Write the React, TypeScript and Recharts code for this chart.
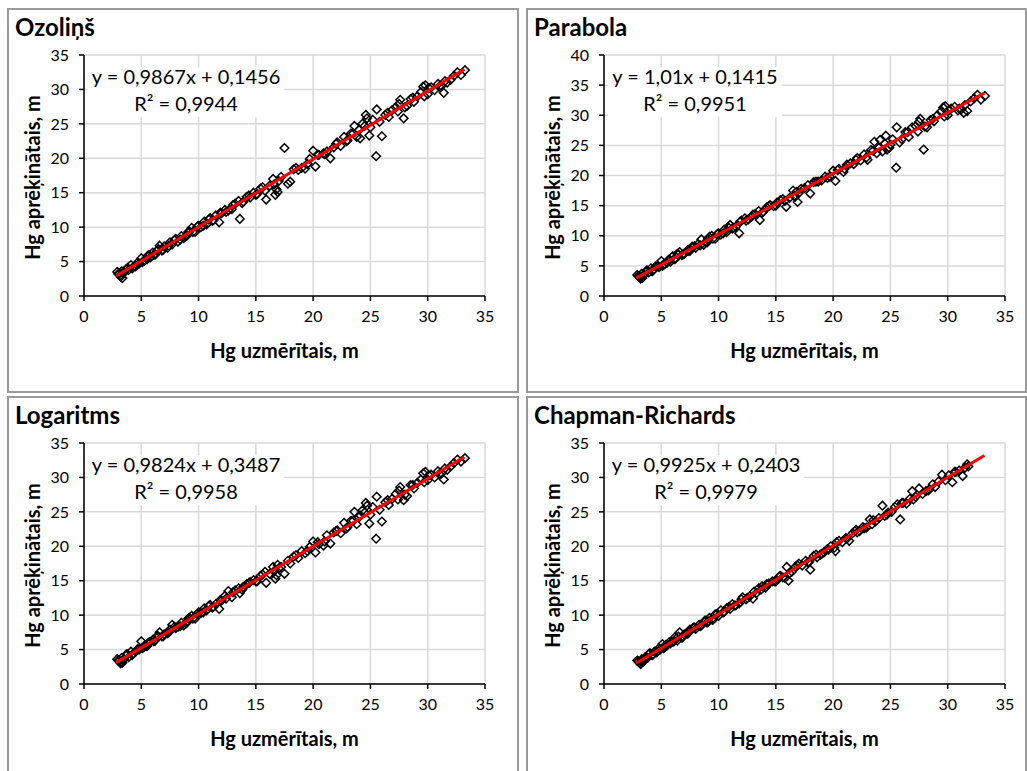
import React from 'react';
import { ScatterChart, Scatter, XAxis, YAxis, CartesianGrid } from 'recharts';

const FONT = 'Lato, "Open Sans", "DejaVu Sans", sans-serif';

const titles = ['Ozoliņš', 'Parabola', 'Logaritms', 'Chapman-Richards'];
const equations = [
  'y = 0,9867x + 0,1456',
  'y = 1,01x + 0,1415',
  'y = 0,9824x + 0,3487',
  'y = 0,9925x + 0,2403',
];
const rSquared = ['R² = 0,9944', 'R² = 0,9951', 'R² = 0,9958', 'R² = 0,9979'];
const xTitle = 'Hg uzmērītais, m';
const yTitle = 'Hg aprēķinātais, m';

const xTicks = [0, 5, 10, 15, 20, 25, 30, 35];
const yTicks35 = [0, 5, 10, 15, 20, 25, 30, 35];
const yTicks40 = [0, 5, 10, 15, 20, 25, 30, 35, 40];

// measured heights shared by the first three models
const measuredA = [
  2.9, 3.1, 3.2, 3.3, 3.35, 3.5, 3.7, 3.9, 4.1, 4.3,
  4.5, 4.8, 5.0, 5.1, 5.3, 5.6, 5.8, 6.0, 6.2, 6.4,
  6.6, 6.8, 7.0, 7.3, 7.5, 7.7, 8.0, 8.2, 8.5, 8.7,
  9.0, 9.2, 9.4, 9.7, 9.9, 10.2, 10.5, 10.7, 11.0, 11.2,
  11.5, 11.8, 12.0, 12.3, 12.6, 12.9, 13.2, 13.5, 13.6, 13.9,
  14.2, 14.5, 14.8, 15.1, 15.4, 15.8, 15.9, 16.2, 16.5, 16.7,
  16.9, 17.2, 17.5, 17.8, 18.0, 18.3, 18.7, 19.0, 19.3, 19.7,
  20.0, 20.2, 20.5, 20.9, 21.2, 21.5, 21.8, 22.1, 22.4, 22.7,
  23.0, 23.3, 23.6, 23.8, 24.1, 24.3, 24.6, 24.9, 25.2, 25.5,
  25.55, 25.8, 26.0, 26.3, 26.6, 26.9, 27.2, 27.4, 27.6, 27.9,
  28.2, 28.5, 28.8, 29.1, 29.4, 29.6, 29.8, 30.0, 30.3, 30.6,
  30.9, 31.2, 31.4, 31.7, 32.0, 32.3, 32.6, 32.9, 33.25, 31.5,
  3.2, 5.5, 8.9, 16.6, 16.8, 24.5, 24.7, 27.5, 29.7, 30.1,
  3.0, 3.4, 3.8, 4.2, 4.7, 5.2, 5.7, 6.1, 6.5, 6.9,
  7.4, 7.9, 8.4, 9.1, 9.5, 10.0, 10.4, 10.9, 11.3, 11.9,
  12.4, 13.0, 13.8, 14.4, 15.0, 15.6, 17.0, 18.5, 19.5, 20.4,
  21.0, 22.0, 22.9, 23.5, 24.0, 25.0, 26.5, 28.0, 28.7, 31.0,
];

const ozolinsY = [
  3.5, 3.3, 2.8, 3.6, 2.6, 3.4, 3.9, 3.8, 4.5, 4.2,
  4.3, 4.7, 5.5, 4.9, 5.2, 5.9, 5.6, 6.3, 6.0, 6.6,
  7.3, 6.6, 7.2, 7.0, 7.8, 7.5, 8.3, 7.9, 8.7, 8.4,
  8.8, 9.4, 9.9, 9.3, 10.1, 10.0, 10.8, 10.4, 11.3, 10.9,
  11.7, 10.7, 12.0, 12.5, 12.4, 12.6, 13.4, 13.8, 11.2, 13.7,
  14.4, 14.3, 15.0, 14.8, 15.6, 15.3, 14.0, 16.0, 17.0, 14.7,
  15.1, 17.3, 21.5, 16.3, 16.6, 18.4, 18.3, 18.6, 18.5, 19.9,
  21.1, 18.8, 20.5, 20.7, 21.0, 20.0, 21.6, 22.3, 21.8, 23.1,
  22.6, 23.6, 24.7, 23.1, 22.9, 25.0, 26.3, 23.3, 25.6, 20.3,
  27.1, 25.3, 23.2, 26.3, 26.0, 27.0, 27.4, 26.8, 28.5, 25.8,
  27.6, 28.6, 28.2, 29.0, 29.6, 30.4, 30.6, 29.3, 30.3, 29.9,
  30.8, 30.5, 29.5, 31.0, 31.4, 32.0, 32.5, 32.1, 32.8, 31.2,
  3.0, 5.3, 8.7, 16.2, 15.5, 24.7, 25.8, 27.9, 29.0, 30.2,
  3.2, 3.3, 4.1, 4.0, 4.9, 5.1, 5.9, 6.0, 6.8, 6.7,
  7.3, 8.1, 8.2, 9.3, 9.3, 10.2, 10.2, 11.1, 11.0, 12.1,
  12.2, 13.2, 13.5, 14.6, 14.7, 15.8, 16.7, 18.6, 19.2, 20.5,
  20.6, 22.1, 22.5, 23.6, 24.1, 24.5, 26.6, 27.4, 28.8, 30.4,
];

const parabolaY = [
  3.5, 3.2, 2.9, 3.7, 3.0, 3.5, 4.2, 3.9, 4.6, 4.3,
  4.9, 4.8, 5.8, 5.0, 5.3, 5.9, 5.7, 6.6, 6.1, 7.0,
  7.3, 6.8, 7.0, 7.6, 7.5, 8.2, 8.0, 8.6, 9.4, 8.5,
  8.9, 9.8, 10.0, 9.5, 10.3, 10.2, 11.0, 10.6, 11.8, 11.2,
  11.5, 10.4, 12.5, 12.9, 12.7, 13.2, 13.6, 14.1, 12.6, 14.0,
  14.7, 15.1, 14.9, 15.5, 15.9, 15.8, 14.8, 16.3, 17.5, 16.5,
  15.6, 17.8, 17.9, 18.4, 17.0, 18.9, 19.0, 19.2, 19.8, 19.8,
  20.8, 19.1, 21.1, 20.6, 21.8, 22.0, 21.9, 22.9, 22.5, 23.5,
  22.6, 24.2, 25.6, 23.7, 25.9, 24.0, 26.6, 24.6, 26.0, 21.3,
  28.0, 25.5, 26.0, 27.2, 26.4, 28.0, 28.2, 27.3, 29.4, 24.3,
  28.0, 29.2, 29.0, 30.0, 30.6, 31.3, 31.5, 30.0, 31.1, 31.4,
  30.8, 31.0, 30.4, 30.7, 32.3, 32.8, 33.4, 32.6, 33.2, 31.7,
  3.1, 5.5, 9.0, 16.6, 17.3, 25.3, 24.3, 28.9, 29.8, 30.8,
  3.3, 3.4, 4.2, 4.1, 5.0, 5.2, 6.1, 6.1, 6.9, 6.9,
  7.5, 8.3, 8.4, 9.5, 9.5, 10.4, 10.4, 11.3, 11.3, 12.4,
  12.5, 13.5, 13.8, 14.9, 15.0, 16.1, 17.1, 19.0, 19.6, 20.9,
  21.1, 22.6, 23.0, 24.1, 24.6, 25.1, 27.2, 28.1, 29.4, 31.1,
];

const logaritmsY = [
  3.6, 3.4, 3.0, 3.8, 3.1, 3.6, 4.3, 3.9, 4.7, 4.4,
  4.7, 5.0, 6.2, 5.2, 5.6, 5.9, 6.1, 6.4, 6.3, 7.0,
  7.5, 6.9, 7.2, 7.4, 7.9, 8.6, 8.1, 8.3, 8.9, 8.5,
  9.0, 9.6, 9.9, 9.5, 10.2, 10.3, 11.0, 10.7, 11.5, 11.1,
  11.6, 10.9, 12.1, 12.8, 13.5, 12.6, 13.6, 13.9, 13.2, 14.1,
  14.5, 14.8, 15.1, 14.9, 15.7, 16.3, 14.7, 16.0, 17.0, 15.3,
  17.3, 17.0, 16.0, 17.9, 17.5, 18.5, 18.3, 19.3, 19.0, 19.9,
  20.7, 19.1, 20.3, 20.1, 21.6, 20.4, 22.0, 22.3, 21.9, 23.4,
  22.8, 23.7, 25.0, 23.2, 24.5, 25.2, 26.3, 23.3, 25.7, 21.1,
  27.2, 25.3, 23.6, 26.4, 26.0, 26.9, 27.6, 26.8, 28.6, 26.7,
  27.3, 28.9, 28.4, 29.2, 29.7, 30.6, 30.8, 29.6, 30.4, 30.0,
  30.9, 30.6, 29.7, 31.1, 31.6, 32.1, 32.6, 32.3, 32.8, 31.3,
  3.2, 5.5, 8.8, 16.4, 15.8, 24.9, 25.9, 28.1, 29.3, 30.3,
  3.4, 3.5, 4.3, 4.2, 5.1, 5.3, 6.1, 6.2, 6.9, 6.9,
  7.5, 8.3, 8.4, 9.5, 9.5, 10.4, 10.4, 11.3, 11.2, 12.2,
  12.4, 13.3, 13.7, 14.7, 14.9, 15.9, 16.8, 18.7, 19.3, 20.6,
  20.7, 22.2, 22.6, 23.7, 24.2, 24.6, 26.7, 27.5, 28.9, 30.5,
];

// measured heights for the Chapman-Richards panel
const measuredB = [
  2.9, 3.1, 3.2, 3.3, 3.4, 3.6, 3.8, 4.0, 4.2, 4.4,
  4.6, 4.9, 5.1, 5.3, 5.5, 5.8, 6.0, 6.2, 6.4, 6.6,
  6.8, 7.0, 7.3, 7.5, 7.8, 8.0, 8.3, 8.5, 8.8, 9.0,
  9.2, 9.5, 9.7, 10.0, 10.2, 10.5, 10.7, 11.0, 11.2, 11.5,
  11.8, 12.1, 12.4, 12.7, 13.0, 13.3, 13.5, 13.8, 14.1, 14.4,
  14.7, 15.0, 15.3, 15.6, 15.95, 16.1, 16.4, 16.7, 17.0, 17.3,
  17.6, 17.9, 18.0, 18.3, 18.6, 18.9, 19.2, 19.5, 19.8, 20.1,
  20.2, 20.5, 20.8, 21.1, 21.4, 21.7, 22.0, 22.3, 22.6, 22.9,
  23.2, 23.4, 23.7, 24.0, 24.3, 24.5, 24.8, 25.1, 25.4, 25.6,
  25.85, 26.1, 26.4, 26.7, 26.9, 27.2, 27.5, 27.8, 28.1, 28.4,
  28.7, 28.9, 29.2, 29.5, 29.8, 30.1, 30.4, 30.7, 31.0, 31.3,
  31.5, 31.7, 31.8, 3.3, 5.4, 9.1, 15.8, 19.6, 22.1, 27.0,
  3.0, 3.5, 3.9, 4.3, 4.8, 5.2, 5.7, 6.1, 6.5, 6.9,
  7.4, 7.9, 8.4, 8.9, 9.4, 9.9, 10.4, 10.9, 11.4, 12.0,
  12.5, 13.1, 13.7, 14.2, 14.9, 15.4, 16.2, 16.9, 17.8, 18.5,
  19.0, 20.3, 21.2, 21.9, 22.7, 23.5, 24.7, 26.0, 28.3, 30.6,
];

const chapmanY = [
  3.4, 3.1, 2.9, 3.6, 3.2, 3.9, 3.8, 4.5, 4.2, 4.7,
  4.6, 5.0, 5.8, 5.3, 5.6, 5.9, 6.1, 6.8, 6.3, 7.5,
  6.7, 7.2, 7.3, 7.9, 8.2, 8.0, 8.6, 8.5, 9.2, 8.9,
  9.6, 9.3, 10.1, 9.9, 10.7, 10.5, 11.0, 10.9, 11.6, 11.4,
  11.7, 12.6, 12.3, 12.7, 12.4, 13.2, 13.9, 14.2, 14.0, 14.6,
  14.9, 14.9, 15.6, 15.5, 17.0, 15.0, 16.3, 17.0, 17.5, 17.2,
  17.9, 17.7, 16.6, 18.6, 18.4, 18.8, 19.1, 19.6, 20.0, 19.8,
  19.3, 20.8, 20.6, 21.2, 20.8, 21.9, 22.4, 22.2, 22.8, 22.7,
  23.9, 23.2, 23.6, 24.1, 25.9, 24.4, 24.9, 25.0, 25.7, 26.1,
  23.9, 26.3, 26.2, 26.9, 28.0, 27.2, 28.4, 27.6, 28.0, 28.3,
  29.0, 28.6, 29.4, 30.4, 29.6, 30.3, 29.3, 30.8, 31.0, 30.2,
  31.4, 31.9, 31.6, 3.3, 5.7, 9.1, 15.4, 19.5, 22.0, 26.8,
  3.3, 3.6, 4.3, 4.3, 5.2, 5.2, 6.1, 6.2, 6.9, 6.9,
  7.5, 8.2, 8.4, 9.2, 9.4, 10.2, 10.4, 11.2, 11.4, 12.3,
  12.5, 13.4, 13.7, 14.5, 14.9, 15.7, 16.1, 17.2, 17.7, 18.8,
  18.9, 20.6, 21.1, 22.2, 22.6, 23.8, 24.6, 26.3, 28.1, 30.8,
];

// linear trendline ends
const trendX = [2.8, 33.2];
const ozolinsTrendY = [2.91, 32.91];
const parabolaTrendY = [2.97, 33.67];
const logaritmsTrendY = [3.1, 32.96];
const chapmanTrendY = [3.02, 33.19];

const zip = (xs: number[], ys: number[]) => xs.map((x, i) => ({ x, y: ys[i] }));

const panels = [
  { points: zip(measuredA, ozolinsY), trend: zip(trendX, ozolinsTrendY), yMax: 35, yTicks: yTicks35 },
  { points: zip(measuredA, parabolaY), trend: zip(trendX, parabolaTrendY), yMax: 40, yTicks: yTicks40 },
  { points: zip(measuredA, logaritmsY), trend: zip(trendX, logaritmsTrendY), yMax: 35, yTicks: yTicks35 },
  { points: zip(measuredB, chapmanY), trend: zip(trendX, chapmanTrendY), yMax: 35, yTicks: yTicks35 },
];

const boxes = [
  { left: 7, top: 8, width: 512, ml: 15, mr: 32, eqCenter: 177, eqBox: 196 },
  { left: 526, top: 8, width: 501, ml: 16, mr: 20, eqCenter: 167, eqBox: 174 },
  { left: 7, top: 396, width: 512, ml: 15, mr: 32, eqCenter: 177, eqBox: 196 },
  { left: 526, top: 396, width: 501, ml: 16, mr: 20, eqCenter: 178, eqBox: 196 },
];

const CHART_H = 380;

const Diamond = (props: any) => {
  const { cx, cy } = props;
  if (cx == null || cy == null) return <g />;
  const r = 4.3;
  return (
    <polygon
      points={`${cx},${cy - r} ${cx + r},${cy} ${cx},${cy + r} ${cx - r},${cy}`}
      fill="none"
      stroke="#000"
      strokeWidth={1.5}
    />
  );
};

const axisLine = { stroke: '#000', strokeWidth: 1.5 };
const tickStyle = { fill: '#000', fontSize: 16, fontFamily: FONT };

function Panel({ idx }: { idx: number }) {
  const p = panels[idx];
  const b = boxes[idx];
  const innerW = b.width - 4;
  return (
    <div
      style={{
        position: 'absolute',
        left: b.left,
        top: b.top,
        width: b.width,
        height: 385,
        boxSizing: 'border-box',
        border: '2px solid #9a9a9a',
        background: '#fff',
      }}
    >
      <ScatterChart
        width={innerW}
        height={CHART_H}
        margin={{ top: 45, right: b.mr, bottom: 64, left: b.ml }}
      >
        <CartesianGrid stroke="#d9d9d9" strokeWidth={1.5} />
        <XAxis
          type="number"
          dataKey="x"
          domain={[0, 35]}
          ticks={xTicks}
          interval={0}
          height={30}
          tickSize={5}
          tickMargin={10}
          axisLine={axisLine}
          tickLine={axisLine}
          tick={tickStyle}
          label={(lp: any) => {
            const vb = lp.viewBox || {};
            return (
              <text
                x={vb.x + vb.width / 2}
                y={348}
                textAnchor="middle"
                fontFamily={FONT}
                fontWeight={700}
                fontSize={20}
                fill="#000"
              >
                {xTitle}
              </text>
            );
          }}
        />
        <YAxis
          type="number"
          dataKey="y"
          domain={[0, p.yMax]}
          ticks={p.yTicks}
          interval={0}
          width={60}
          tickSize={5}
          tickMargin={10}
          axisLine={axisLine}
          tickLine={axisLine}
          tick={tickStyle}
          label={(lp: any) => {
            const vb = lp.viewBox || {};
            const cx = vb.x + 8;
            const cy = vb.y + vb.height / 2 + 2;
            return (
              <text
                x={cx}
                y={cy}
                transform={`rotate(-90 ${cx} ${cy})`}
                textAnchor="middle"
                dominantBaseline="central"
                fontFamily={FONT}
                fontWeight={700}
                fontSize={20}
                fill="#000"
              >
                {yTitle}
              </text>
            );
          }}
        />
        <Scatter data={p.points} shape={Diamond} isAnimationActive={false} />
        <Scatter
          data={p.trend}
          line={{ stroke: '#ff0000', strokeWidth: 3 }}
          shape={() => <g />}
          isAnimationActive={false}
        />
      </ScatterChart>
      <svg
        width={innerW}
        height={CHART_H}
        style={{ position: 'absolute', left: 0, top: 0, pointerEvents: 'none' }}
      >
        <text x={6} y={26} fontFamily={FONT} fontWeight={700} fontSize={24} fill="#000">
          {titles[idx]}
        </text>
        <rect x={b.eqCenter - b.eqBox / 2} y={57} width={b.eqBox} height={50} fill="#fff" />
        <text x={b.eqCenter} y={74} textAnchor="middle" fontFamily={FONT} fontSize={20} fill="#000">
          {equations[idx]}
        </text>
        <text x={b.eqCenter} y={101} textAnchor="middle" fontFamily={FONT} fontSize={20} fill="#000">
          {rSquared[idx]}
        </text>
      </svg>
    </div>
  );
}

export default function App() {
  return (
    <div
      style={{
        position: 'absolute',
        left: 0,
        top: 0,
        width: 1027,
        height: 771,
        overflow: 'hidden',
        background: '#fff',
      }}
    >
      {[0, 1, 2, 3].map((i) => (
        <Panel key={i} idx={i} />
      ))}
    </div>
  );
}
